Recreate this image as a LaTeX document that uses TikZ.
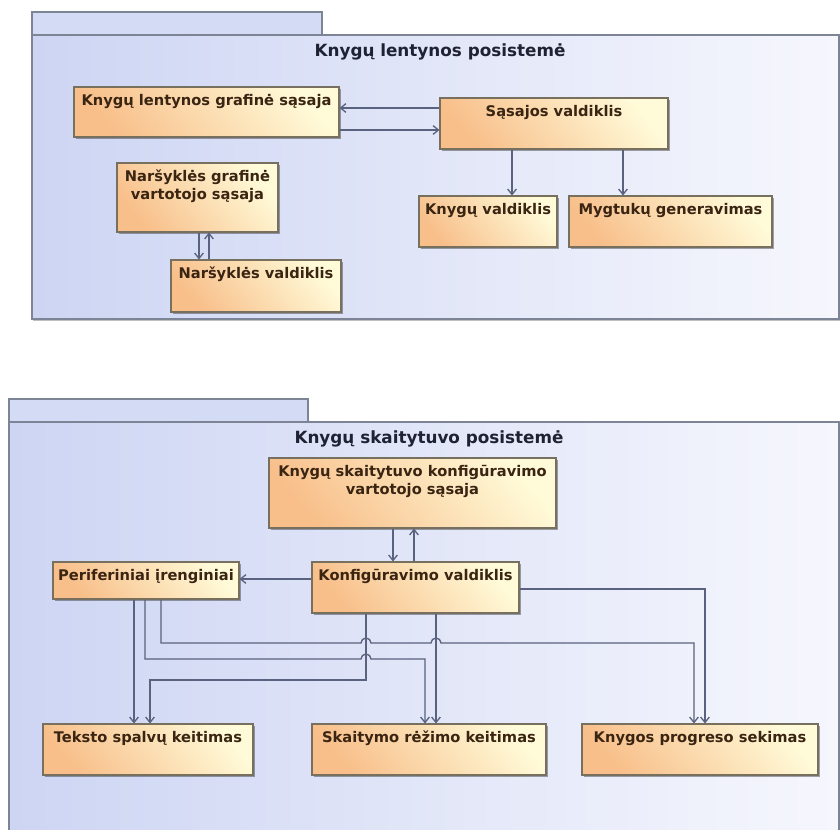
\documentclass[tikz,border=0pt]{standalone}
\usepackage{fontspec}
\setmainfont{DejaVu Sans}
\usetikzlibrary{arrows.meta,shadows,fit}

\definecolor{pkgfillL}{HTML}{CDD5F3}
\definecolor{pkgfillR}{HTML}{F6F7FD}
\definecolor{pkgline}{HTML}{7C8496}
\definecolor{boxO}{HTML}{F8BF8A}
\definecolor{boxY}{HTML}{FFFAD8}
\definecolor{boxline}{HTML}{77705F}
\definecolor{wire}{HTML}{59627E}
\definecolor{boxtext}{HTML}{3A2412}
\definecolor{titletext}{HTML}{1F2233}

\newcommand\boxfont{\bfseries\fontsize{11}{13.5}\selectfont}
\newcommand\titlefont{\bfseries\fontsize{12.6}{15}\selectfont}
\newcommand\twolines[2]{\begin{tabular}[t]{@{}c@{}}#1\\#2\end{tabular}}

\begin{document}
\begin{tikzpicture}[x=0.75pt,y=-0.75pt,
  pkg/.style={draw=pkgline,line width=1.1pt,left color=pkgfillL,right color=pkgfillR,
    drop shadow={shadow xshift=1pt,shadow yshift=-1.2pt,opacity=0.25,fill=black}},
  pkgtab/.style={draw=pkgline,line width=1.1pt,fill=pkgfillL!85!white},
  comp/.style={draw=boxline,line width=0.8pt,inner sep=0pt,
    top color=boxY,bottom color=boxO,shading angle=-50,
    drop shadow={shadow xshift=1.4pt,shadow yshift=-1.4pt,opacity=0.35,fill=black}},
  lbl/.style={font=\boxfont,text=boxtext,inner sep=0pt,anchor=base},
  ttl/.style={font=\titlefont,text=titletext,inner sep=0pt,anchor=base},
  conn/.style={draw=wire,line width=1pt,-{Straight Barb[length=4pt,width=6.5pt]}}
]
\useasboundingbox[fill=white] (0,0) rectangle (840,830);
\clip (0,0) rectangle (840,830);

% ---------- Knygų lentynos posistemė ----------
\path[pkgtab] (32,12) rectangle (322,35);
\path[pkg] (32,35) rectangle (839,319);
\node[ttl] (pkgA) at (440,57) {Knygų lentynos posistemė};

\node[comp,fit={(74,87) (339,137)}] (kg) {};
\node[lbl] (kgT) at ([yshift=-14.25pt]kg.north) {Knygų lentynos grafinė sąsaja};

\node[comp,fit={(440,98) (668,149)}] (sv) {};
\node[lbl] (svT) at ([yshift=-14.25pt]sv.north) {Sąsajos valdiklis};

\node[comp,fit={(117,163) (278,232)}] (ng) {};
\node[lbl] (ngT) at ([yshift=-14.25pt]ng.north) {\twolines{Naršyklės grafinė}{vartotojo sąsaja}};

\node[comp,fit={(171,260) (341,312)}] (nv) {};
\node[lbl] (nvT) at ([yshift=-14.25pt]nv.north) {Naršyklės valdiklis};

\node[comp,fit={(419,196) (557,247)}] (kv) {};
\node[lbl] (kvT) at ([yshift=-14.25pt]kv.north) {Knygų valdiklis};

\node[comp,fit={(569,196) (772,247)}] (mg) {};
\node[lbl] (mgT) at ([yshift=-14.25pt]mg.north) {Mygtukų generavimas};

\draw[conn] (sv.west |- 0,108) -- (kg.east |- 0,108);
\draw[conn] (kg.east |- 0,130) -- (sv.west |- 0,130);
\draw[conn] (sv.south -| 512,0) -- (kv.north -| 512,0);
\draw[conn] (sv.south -| 623,0) -- (mg.north -| 623,0);
\draw[conn] (ng.south -| 199,0) -- (nv.north -| 199,0);
\draw[conn] (nv.north -| 209,0) -- (ng.south -| 209,0);

% ---------- Knygų skaitytuvo posistemė ----------
\path[pkgtab] (9,399) rectangle (308,422);
\path[pkg] (9,422) rectangle (839,836);
\node[ttl] (pkgB) at (429,444) {Knygų skaitytuvo posistemė};

\node[comp,fit={(269,458) (556,528)}] (ks) {};
\node[lbl] (ksT) at ([yshift=-14.25pt]ks.north) {\twolines{Knygų skaitytuvo konfigūravimo}{vartotojo sąsaja}};

\node[comp,fit={(312,562) (519,613)}] (kfv) {};
\node[lbl] (kfvT) at ([yshift=-14.25pt]kfv.north) {Konfigūravimo valdiklis};

\node[comp,fit={(53,562) (239,599)}] (per) {};
\node[lbl] (perT) at ([yshift=-14.25pt]per.north) {Periferiniai įrenginiai};

\node[comp,fit={(43,724) (253,775)}] (tsk) {};
\node[lbl] (tskT) at ([yshift=-14.25pt]tsk.north) {Teksto spalvų keitimas};

\node[comp,fit={(312,724) (546,775)}] (srk) {};
\node[lbl] (srkT) at ([yshift=-14.25pt]srk.north) {Skaitymo rėžimo keitimas};

\node[comp,fit={(582,724) (818,775)}] (kps) {};
\node[lbl] (kpsT) at ([yshift=-14.25pt]kps.north) {Knygos progreso sekimas};

\draw[conn] (ks.south -| 393,0) -- (kfv.north -| 393,0);
\draw[conn] (kfv.north -| 414,0) -- (ks.south -| 414,0);
\draw[conn] (kfv.west |- 0,579) -- (per.east |- 0,579);
\draw[conn] (kfv.east |- 0,589) -- (705,589) -- (kps.north -| 705,0);
\draw[conn] (kfv.south -| 366,0) -- (366,680) -- (150,680) -- (tsk.north -| 150,0);
\draw[conn] (kfv.south -| 436,0) -- (srk.north -| 436,0);
\draw[conn] (per.south -| 134,0) -- (tsk.north -| 134,0);
\draw[conn] (per.south -| 145,0) -- (145,659) -- (361,659) arc (180:360:5)
  -- (425,659) -- (srk.north -| 425,0);
\draw[conn] (per.south -| 161,0) -- (161,643) -- (361,643) arc (180:360:5)
  -- (431,643) arc (180:360:5) -- (694,643) -- (kps.north -| 694,0);
\end{tikzpicture}
\end{document}
